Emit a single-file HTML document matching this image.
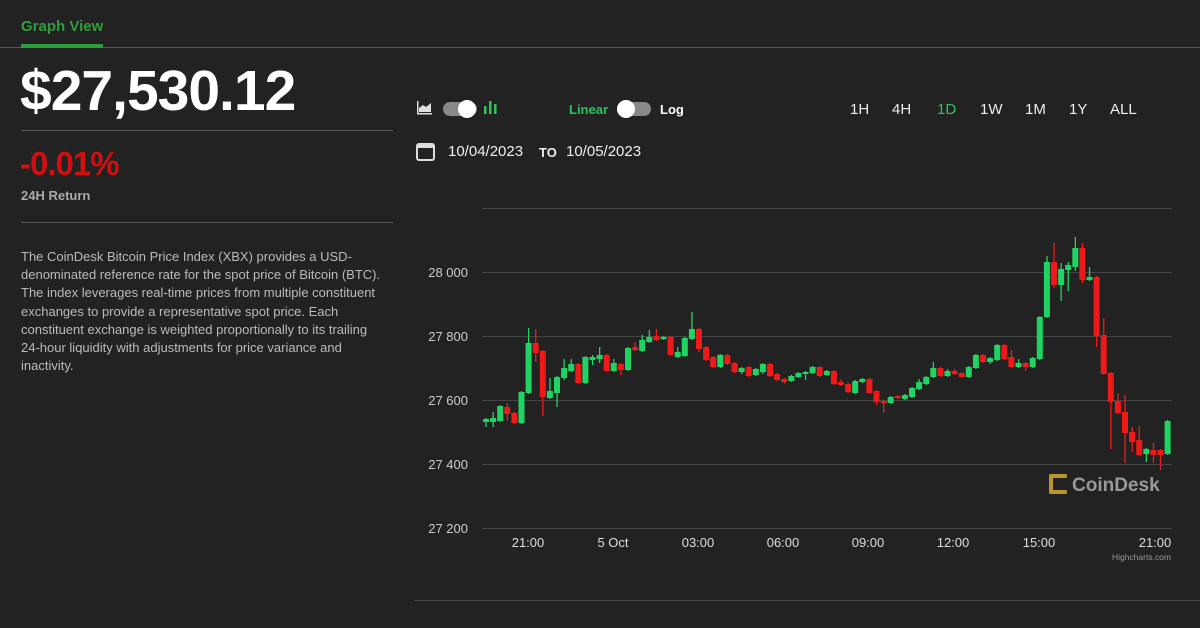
<!DOCTYPE html>
<html><head><meta charset="utf-8"><style>
html,body{margin:0;padding:0;background:#222;width:1200px;height:628px;overflow:hidden;font-family:"Liberation Sans",Arial,sans-serif}
.a{position:absolute;white-space:nowrap}
</style></head><body>
<div class="a" style="left:21px;top:18px;color:#2e9e3c;font-weight:bold;font-size:15px">Graph View</div>
<div class="a" style="left:0;top:47px;width:1200px;height:1px;background:#555"></div>
<div class="a" style="left:21px;top:44px;width:82px;height:4px;background:#2e9e3c"></div>
<div class="a" style="left:20px;top:58px;color:#fff;font-weight:bold;font-size:57px;letter-spacing:-1px">$27,530.12</div>
<div class="a" style="left:21px;top:130px;width:372px;height:1px;background:#555"></div>
<div class="a" style="left:20px;top:145px;color:#d01010;font-weight:bold;font-size:33px;letter-spacing:-1px">-0.01%</div>
<div class="a" style="left:21px;top:188px;color:#aaa;font-weight:bold;font-size:13px">24H Return</div>
<div class="a" style="left:21px;top:222px;width:372px;height:1px;background:#555"></div>
<div class="a" style="left:21px;top:248px;color:#bbb;font-size:13px;line-height:18.2px">The CoinDesk Bitcoin Price Index (XBX) provides a USD-<br>denominated reference rate for the spot price of Bitcoin (BTC).<br>The index leverages real-time prices from multiple constituent<br>exchanges to provide a representative spot price. Each<br>constituent exchange is weighted proportionally to its trailing<br>24-hour liquidity with adjustments for price variance and<br>inactivity.</div>

<svg class="a" style="left:0;top:0" width="1200" height="628">
<g fill="#ddd"><rect x="417" y="113" width="15" height="1.5"/><rect x="417" y="101" width="1.5" height="13"/><path d="M419 112 L419 108 L423 105 L426 107 L431 103 L431 112Z"/></g>
<rect x="443" y="102" width="34" height="14" rx="7" fill="#888"/><circle cx="467" cy="109" r="9" fill="#fff"/>
<g fill="#2ec35a"><rect x="484" y="106" width="2.5" height="8"/><rect x="489" y="101" width="2.5" height="13"/><rect x="494" y="104" width="2.5" height="10"/></g>
<rect x="617" y="102" width="34" height="14" rx="7" fill="#888"/><circle cx="626" cy="109" r="9" fill="#fff"/>
<rect x="417" y="144" width="17" height="16" rx="2" fill="none" stroke="#ddd" stroke-width="2"/><rect x="417" y="144" width="17" height="4" fill="#ddd"/>
<g stroke="#444" stroke-width="1"><line x1="482" y1="208.5" x2="1172" y2="208.5"/><line x1="482" y1="272.5" x2="1172" y2="272.5"/><line x1="482" y1="336.5" x2="1172" y2="336.5"/><line x1="482" y1="400.5" x2="1172" y2="400.5"/><line x1="482" y1="464.5" x2="1172" y2="464.5"/><line x1="482" y1="528.5" x2="1172" y2="528.5"/><line x1="415" y1="600.5" x2="1200" y2="600.5"/></g>
<g fill="#ccc" font-size="13" text-anchor="end"><text x="468" y="277">28 000</text><text x="468" y="341">27 800</text><text x="468" y="405">27 600</text><text x="468" y="469">27 400</text><text x="468" y="533">27 200</text></g>
<g fill="#ddd" font-size="13" text-anchor="middle"><text x="528" y="547">21:00</text><text x="613" y="547">5 Oct</text><text x="698" y="547">03:00</text><text x="783" y="547">06:00</text><text x="868" y="547">09:00</text><text x="953" y="547">12:00</text><text x="1039" y="547">15:00</text><text x="1155" y="547">21:00</text></g>
<text x="1171" y="560" fill="#999" font-size="8.5" text-anchor="end">Highcharts.com</text>
<g fill="#b8962e"><rect x="1049" y="474" width="4" height="20" rx="1.5"/><rect x="1049" y="474" width="18" height="4" rx="1.5"/><rect x="1049" y="490" width="18" height="4" rx="1.5"/></g>
<text x="1072" y="491" fill="#999" font-size="19" font-weight="bold">CoinDesk</text>
<g id="c"></g>
</svg>
<div class="a" style="left:569px;top:102px;color:#2ec35a;font-weight:bold;font-size:13px">Linear</div>
<div class="a" style="left:660px;top:102px;color:#fff;font-weight:bold;font-size:13px">Log</div>
<div class="a" style="left:448px;top:143px;color:#eee;font-size:15px">10/04/2023</div>
<div class="a" style="left:539px;top:145px;color:#eee;font-weight:bold;font-size:13px">TO</div>
<div class="a" style="left:566px;top:143px;color:#eee;font-size:15px">10/05/2023</div>
<div class="a" style="top:101px;left:850px;color:#eee;font-size:15px">1H</div>
<div class="a" style="top:101px;left:892px;color:#eee;font-size:15px">4H</div>
<div class="a" style="top:101px;left:937px;color:#2ec35a;font-size:15px">1D</div>
<div class="a" style="top:101px;left:980px;color:#eee;font-size:15px">1W</div>
<div class="a" style="top:101px;left:1025px;color:#eee;font-size:15px">1M</div>
<div class="a" style="top:101px;left:1069px;color:#eee;font-size:15px">1Y</div>
<div class="a" style="top:101px;left:1110px;color:#eee;font-size:15px">ALL</div>
<script>
var d=[
"g,419,422,418,427","g,418,422,412,427","g,406,421,405,422","r,407,414,403,421","r,413,423,412,424","g,392,423,391,424","g,343,393,328,394","r,343,353,329,362","r,351,397,350,416","g,391,398,378,399","g,377,393,376,407","g,368,378,359,380","g,364,371,359,372","r,364,383,363,384","g,357,383,356,384","g,357,360,355,365","g,355,359,347,363","r,355,371,354,372","g,363,371,359,372","r,364,370,363,375","g,348,370,347,371","r,347,350,342,351","g,340,351,335,352","g,337,342,330,343","r,336,340,329,341","g,337,339,336,340","r,337,355,336,356","g,352,357,347,358","g,338,356,337,357","g,329,339,312,340","r,329,349,328,352","r,347,360,346,361","r,357,367,356,368","g,355,367,354,368","r,355,364,354,365","r,363,372,362,373","g,368,372,367,374","r,367,376,366,377","g,369,375,368,376","g,364,372,363,374","r,364,376,363,377","r,374,380,373,381","r,379,382,378,384","g,376,381,375,382","g,373,377,372,378","g,372,374,371,380","g,367,373,366,374","r,367,376,366,377","g,371,375,370,376",
"r,371,384,370,385","r,382,385,379,386","r,384,392,383,393","g,381,393,380,394","g,379,382,378,383","r,379,393,378,394","r,391,402,390,405","r,401,403,400,413","g,397,403,396,404","r,396,398,395,399","g,395,399,394,400","g,388,397,387,398","g,382,389,379,390","g,377,384,376,385","g,368,377,362,378","r,368,376,367,377","g,371,376,369,377","r,371,374,369,375","r,373,377,372,378","g,367,377,366,378","g,355,368,354,369","r,355,362,354,363","g,358,362,357,364","g,345,360,344,361","r,345,359,344,360","r,357,367,350,368","g,363,367,359,368","r,363,367,362,371","g,358,367,357,368","g,317,359,316,360","g,262,317,256,318","r,262,285,243,288","g,269,285,263,301","g,265,270,262,291","g,248,267,237,271","r,248,280,243,283","g,277,280,267,281","r,277,336,276,347","r,335,374,318,375","r,373,402,372,449","r,401,413,393,414","r,412,433,395,463","r,432,442,427,452","r,440,455,426,456","g,449,454,448,462","r,450,455,443,463","r,450,455,449,470","g,421,454,420,455"];
var s="";d.forEach(function(e,i){var p=e.split(","),c=p[0]=="g"?"#1fd462":"#ee1a1a",x=486+i*7.1,t=+p[1],b=+p[2];if(b-t<2)b=t+2;
s+='<rect x="'+(x-0.6)+'" y="'+p[3]+'" width="1.3" height="'+(p[4]-p[3])+'" fill="'+c+'"/><rect x="'+(x-3)+'" y="'+t+'" width="6" height="'+(b-t)+'" fill="'+c+'"/>';});
document.getElementById("c").innerHTML=s;
</script>
</body></html>
